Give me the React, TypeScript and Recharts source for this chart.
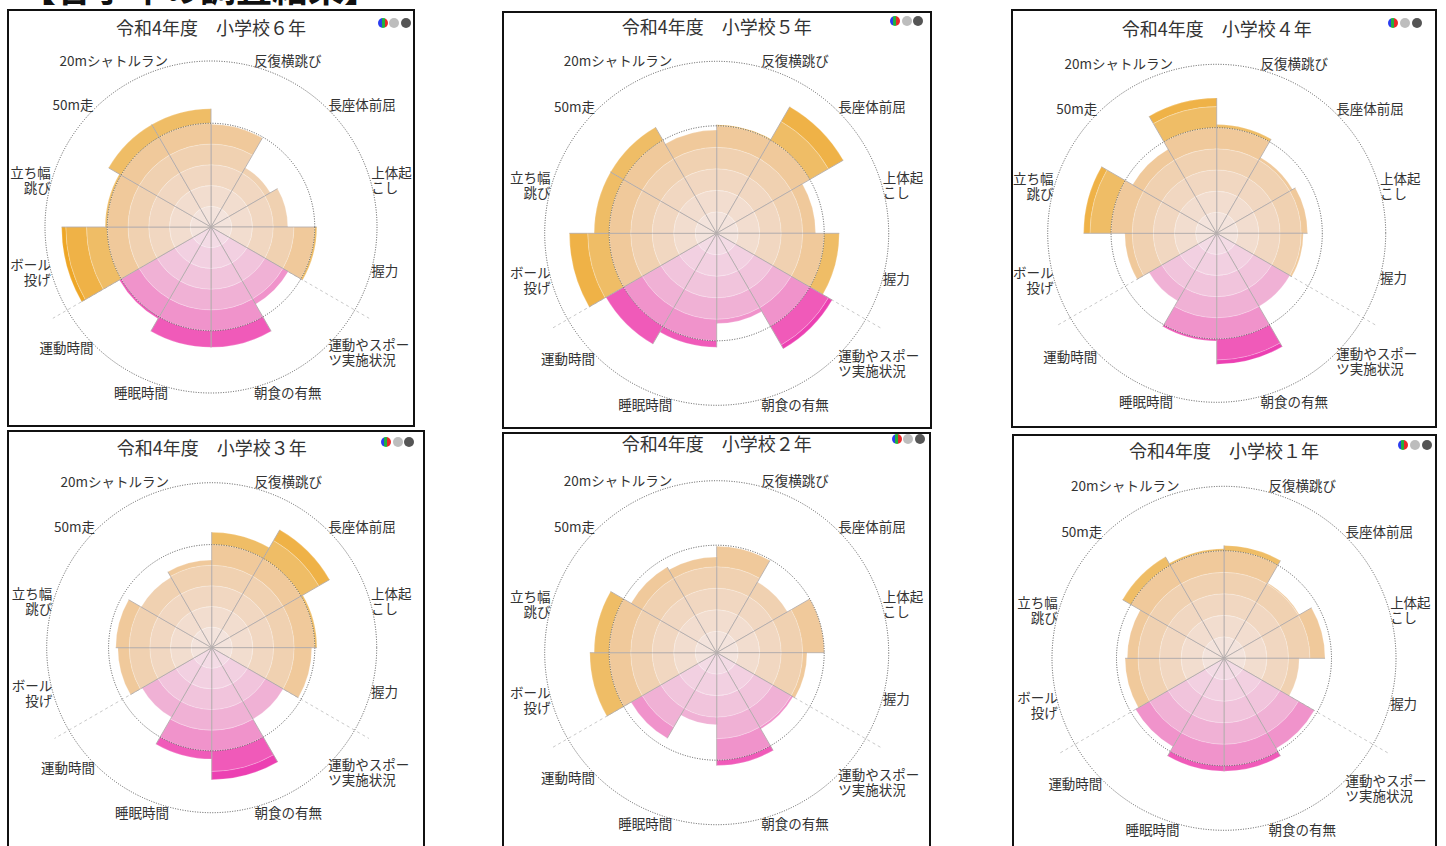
import React from "react";
import {
  RadialBarChart,
  RadialBar,
  PolarAngleAxis,
  PolarRadiusAxis,
  PolarGrid,
  Cell,
  Sector,
} from "recharts";

// category order follows the rose, clockwise from 12 o'clock
const categories = [
  "反復横跳び",
  "長座体前屈",
  "上体起こし",
  "握力",
  "運動やスポーツ実施状況",
  "朝食の有無",
  "睡眠時間",
  "運動時間",
  "ボール投げ",
  "立ち幅跳び",
  "50m走",
  "20mシャトルラン",
];
const tickLabels = [
  "反復横跳び",
  "長座体前屈",
  "上体起\nこし",
  "握力",
  "運動やスポー\nツ実施状況",
  "朝食の有無",
  "睡眠時間",
  "運動時間",
  "ボール\n投げ",
  "立ち幅\n跳び",
  "50m走",
  "20mシャトルラン",
];
// lifestyle items are drawn pink, fitness items orange
const isLifestyle = [false, false, false, false, true, true, true, true, false, false, false, false];

const grade6 = [49.5, 33, 37, 51, 43, 58, 58, 51, 72, 51, 57, 57];
const grade5 = [50.5, 68, 46, 57, 62, 42, 53, 59.5, 68.5, 57, 57, 48];
const grade4 = [51.5, 41.5, 43, 41, 40, 62, 51, 37, 43.5, 63, 46, 64];
const grade3 = [56, 66, 51, 48.5, 40, 64, 54, 39, 45.5, 46.5, 39.5, 42.5];
const grade2 = [49.5, 38, 50, 42, 41, 52.5, 33.5, 46, 59, 57, 46, 44.5];
const grade1 = [52.5, 40.5, 47, 35, 48.5, 52.5, 52.5, 47.5, 46, 45, 54.5, 51];

const titles = [
  "令和4年度　小学校６年",
  "令和4年度　小学校５年",
  "令和4年度　小学校４年",
  "令和4年度　小学校３年",
  "令和4年度　小学校２年",
  "令和4年度　小学校１年",
];

const referenceTicks = [50, 80];
const BAND = 10;
const BAND_COUNT = 8;
const AXIS_MAX = 88; // scale runs a bit past 80 so the separators overshoot the ring
const STEP = 360 / categories.length;

const ORANGE = ["#f3e3dc", "#f2ddcf", "#f1d7c1", "#f0d1b1", "#f0c99b", "#efbd66", "#efb247", "#eea626"];
const PINK = ["#f3dbe5", "#f2d0e1", "#f1c4dc", "#f0b1d5", "#f093cb", "#f05ab9", "#ec40b2", "#e62ea8"];

const FONT = '"Noto Sans CJK JP", "Noto Sans", sans-serif';
const LABEL_SIZE = 13.5;
const LINE_H = 15;
const RAD = Math.PI / 180;

// page placement of each panel
const panels = [
  { values: grade6, box: [7, 9, 408, 418], c: [211, 227], r: 166, titleY: 27, icon: [382.7, 22.7] },
  { values: grade5, box: [502, 11, 430, 418], c: [716.7, 233.3], r: 172, titleY: 26, icon: [895, 20.7] },
  { values: grade4, box: [1011, 9, 426, 419], c: [1216.7, 233.3], r: 169, titleY: 28, icon: [1393.3, 23.3] },
  { values: grade3, box: [7, 430, 418, 425], c: [211.7, 647.7], r: 165, titleY: 446.7, icon: [386, 441.7] },
  { values: grade2, box: [502, 432, 429, 425], c: [716.7, 652.7], r: 172, titleY: 443, icon: [896.7, 439] },
  { values: grade1, box: [1012, 434, 425, 425], c: [1224, 658.3], r: 172, titleY: 450, icon: [1403.3, 445] },
];

// split each value into 10-point rings so the colour deepens outward
const buildRows = (values: number[]) =>
  categories.map((name, i) => {
    const row: Record<string, string | number> = { name };
    for (let k = 0; k < BAND_COUNT; k++) {
      row[`b${k}`] = Math.max(0, Math.min(BAND, values[i] - k * BAND));
    }
    return row;
  });

const BandSector = (props: any) => {
  const { cx, cy, innerRadius, outerRadius, startAngle, endAngle, fill } = props;
  if (!(outerRadius - innerRadius > 0.05)) return <g />;
  const pt = (rr: number, a: number) => `${cx + rr * Math.cos(-a * RAD)},${cy + rr * Math.sin(-a * RAD)}`;
  return (
    <g>
      <Sector
        cx={cx}
        cy={cy}
        innerRadius={innerRadius}
        outerRadius={outerRadius}
        startAngle={startAngle}
        endAngle={endAngle}
        fill={fill}
        stroke="rgba(255,255,255,0.35)"
        strokeWidth={0.6}
      />
      <path
        d={`M${pt(innerRadius, startAngle)}L${pt(outerRadius, startAngle)}M${pt(innerRadius, endAngle)}L${pt(outerRadius, endAngle)}`}
        stroke="#a8a2a2"
        strokeWidth={0.75}
        fill="none"
      />
    </g>
  );
};

// label hangs off the ring at its sector's centre, left or right aligned by side.
// the band axis puts its tick on the sector edge, so turn half a step to the middle
const makeTick = (cx: number, cy: number, r: number) => (props: any) => {
  const i = categories.indexOf(props?.payload?.value);
  if (i < 0) return <g />;
  const lines = tickLabels[i].split("\n");
  const a = Math.atan2(cy - props.y, props.x - cx) + (STEP / 2) * RAD;
  const ux = Math.cos(a);
  const uy = -Math.sin(a);
  const px = cx + r * ux;
  const py = cy + r * uy;
  const h = (lines.length * LINE_H) / 2;
  const midY = py + 0.8 * h * uy;
  const right = ux >= 0;
  return (
    <text textAnchor={right ? "start" : "end"} fontSize={LABEL_SIZE} fill="#333" fontFamily={FONT}>
      {lines.map((ln, j) => (
        <tspan key={j} x={px} y={midY - ((lines.length - 1) * LINE_H) / 2 + j * LINE_H + LABEL_SIZE * 0.36}>
          {ln}
        </tspan>
      ))}
    </text>
  );
};

const RosePanel = ({ panel, title }: { panel: (typeof panels)[number]; title: string }) => {
  const [left, top, width, height] = panel.box;
  const border = 2;
  const cx = panel.c[0] - left - border;
  const cy = panel.c[1] - top - border;
  const rows = buildRows(panel.values);
  // the fitness / lifestyle split sits at the 4th and 8th sector boundary
  const boundaryAngles = [4, 8].map((i) => 90 - STEP * i);

  return (
    <div
      style={{
        position: "absolute",
        left,
        top,
        width,
        height,
        boxSizing: "border-box",
        border: `${border}px solid #111`,
        background: "#fff",
      }}
    >
      {/* Recharts sweeps each band counter-clockwise from its tick, so start one step early */}
      <RadialBarChart
        width={width - 2 * border}
        height={height - 2 * border}
        data={rows}
        layout="centric"
        cx={cx}
        cy={cy}
        innerRadius={0}
        outerRadius={(panel.r * AXIS_MAX) / 80}
        startAngle={90 - STEP}
        endAngle={90 - STEP - 360}
        barCategoryGap={0}
        barGap={0}
        margin={{ top: 0, right: 0, bottom: 0, left: 0 }}
      >
        <PolarAngleAxis
          type="category"
          dataKey="name"
          axisLine={false}
          tickLine={false}
          tick={makeTick(cx, cy, panel.r)}
        />
        <PolarRadiusAxis
          type="number"
          domain={[0, AXIS_MAX]}
          ticks={referenceTicks}
          allowDataOverflow
          tick={false}
          axisLine={false}
        />
        <PolarGrid
          gridType="circle"
          polarRadius={[]}
          polarAngles={boundaryAngles}
          stroke="#c9c9c9"
          strokeDasharray="3 3"
        />
        {Array.from({ length: BAND_COUNT }, (_, k) => (
          <RadialBar key={k} dataKey={`b${k}`} stackId="v" isAnimationActive={false} shape={BandSector}>
            {categories.map((_, i) => (
              <Cell key={i} fill={(isLifestyle[i] ? PINK : ORANGE)[k]} />
            ))}
          </RadialBar>
        ))}
        <PolarGrid
          gridType="circle"
          radialLines={false}
          stroke="#555"
          strokeDasharray="1 1.5"
          zIndex={600}
        />
      </RadialBarChart>
      <div
        style={{
          position: "absolute",
          left: cx - 160,
          width: 320,
          top: panel.titleY - top - border - 12,
          lineHeight: "24px",
          textAlign: "center",
          fontSize: 18,
          color: "#333",
          fontFamily: FONT,
        }}
      >
        {title}
      </div>
      {[0, 1, 2].map((i) => (
        <div
          key={i}
          style={{
            position: "absolute",
            left: panel.icon[0] - left - border + i * 11.7 - 5,
            top: panel.icon[1] - top - border - 5,
            width: 10,
            height: 10,
            borderRadius: "50%",
            background:
              i === 0
                ? "linear-gradient(to right, #2b3df0 0 35%, #21b040 35% 65%, #e62a2a 65%)"
                : i === 1
                ? "#bdbdbd"
                : "#555",
          }}
        />
      ))}
    </div>
  );
};

export default function App() {
  return (
    <div
      style={{
        position: "absolute",
        left: 0,
        top: 0,
        width: 1446,
        height: 846,
        overflow: "hidden",
        background: "#fff",
        fontFamily: FONT,
      }}
    >
      <div
        style={{
          position: "absolute",
          left: 20,
          top: -32,
          fontSize: 36,
          lineHeight: "36px",
          fontWeight: "bold",
          color: "#111",
          whiteSpace: "nowrap",
        }}
      >
        【各学年の調査結果】
      </div>
      {panels.map((p, i) => (
        <RosePanel key={i} panel={p} title={titles[i]} />
      ))}
    </div>
  );
}
